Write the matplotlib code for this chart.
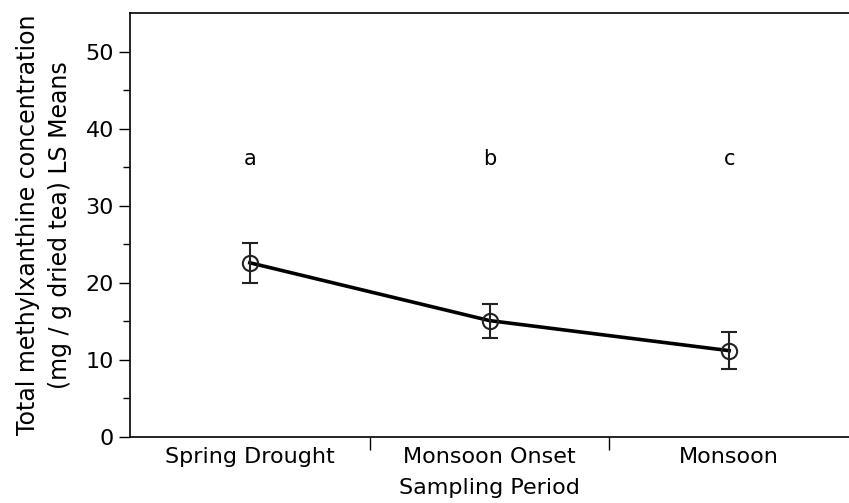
import matplotlib
matplotlib.use("Agg")
from matplotlib import pyplot as plt

periods = ["Spring Drought", "Monsoon Onset", "Monsoon"]
means = [22.6, 15.1, 11.2]
err_low = [20.0, 12.9, 8.8]
err_high = [25.2, 17.2, 13.6]
letters = ["a", "b", "c"]
letter_y = 36.1

plt.rcParams['font.family'] = ['DejaVu Sans']

fig = plt.figure(figsize=(8.49, 5.03), dpi=100)
ax = fig.add_axes([130 / 849, 1 - 437 / 503, 1 - 130 / 849, (437 - 13) / 503])

x = [i + 0.5 for i in range(len(periods))]
yerr = [[m - lo for m, lo in zip(means, err_low)],
        [hi - m for m, hi in zip(means, err_high)]]
ax.plot(x, means, color='black', lw=2.6, zorder=2)
ax.errorbar(x, means, yerr=yerr, fmt='none', ecolor='#222222', elinewidth=1.5,
            capsize=6, capthick=1.5, zorder=3)
ax.plot(x, means, 'o', ms=11, mfc='none', mec='#222222', mew=1.5, zorder=4)
for xi, t in zip(x, letters):
    ax.text(xi, letter_y, t, ha='center', va='center', fontsize=15)

ax.set_xlim(0, 3)
ax.set_ylim(0, 55)
ax.set_yticks(range(0, 51, 10))
ax.set_yticks(range(5, 51, 10), minor=True)
ax.set_xticks(x)
ax.set_xticklabels(periods)
ax.set_xticks([1, 2], minor=True)
ax.tick_params(axis='x', which='major', length=0, labelsize=16, pad=7)
ax.tick_params(axis='x', which='minor', length=9, width=1)
ax.tick_params(axis='y', which='major', length=8, width=1, labelsize=16)
ax.tick_params(axis='y', which='minor', length=5, width=1)
ax.spines['right'].set_visible(False)
for s in ['left', 'bottom', 'top']:
    ax.spines[s].set_linewidth(1.2)

ax.set_xlabel("Sampling Period", fontsize=16, labelpad=8)
ax.set_ylabel("Total methylxanthine concentration\n(mg / g dried tea) LS Means",
              fontsize=17, labelpad=10, linespacing=1.4)

fig.savefig("out.png", dpi=100)
